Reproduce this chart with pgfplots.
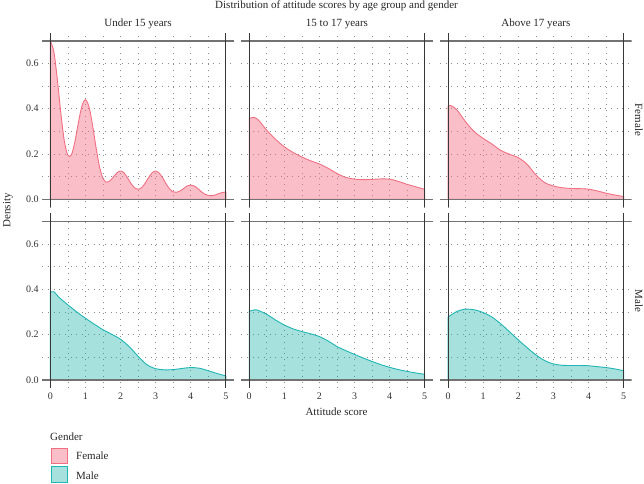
\documentclass[border=0pt]{standalone}
\usepackage{fontspec}
\setmainfont{Liberation Serif}
\usepackage{pgfplots}
\usepackage{pgfplotstable}
\pgfplotsset{compat=1.18}
\definecolor{fline}{RGB}{240,112,130}
\definecolor{fbase}{RGB}{241,110,130}
\definecolor{mline}{RGB}{32,182,180}
\definecolor{mbase}{RGB}{20,175,168}
\definecolor{hcol}{RGB}{115,115,115}
\definecolor{vcol}{RGB}{55,55,55}
\definecolor{gridcol}{RGB}{140,140,140}

\pgfplotstableread{
x y
0 0.700
0.1 0.653
0.2 0.530
0.3 0.381
0.4 0.257
0.5 0.195
0.6 0.196
0.7 0.254
0.8 0.338
0.9 0.412
1.0 0.440
1.1 0.410
1.2 0.331
1.3 0.232
1.4 0.145
1.5 0.092
1.6 0.076
1.7 0.082
1.8 0.099
1.9 0.117
2.0 0.125
2.1 0.117
2.2 0.095
2.3 0.070
2.4 0.051
2.5 0.045
2.6 0.051
2.7 0.071
2.8 0.096
2.9 0.117
3.0 0.125
3.1 0.116
3.2 0.095
3.3 0.068
3.4 0.046
3.5 0.033
3.6 0.031
3.7 0.037
3.8 0.048
3.9 0.059
4.0 0.063
4.1 0.059
4.2 0.048
4.3 0.034
4.4 0.023
4.5 0.017
4.6 0.016
4.7 0.019
4.8 0.025
4.9 0.030
5.0 0.032
}\ftl
\pgfplotstableread{
x y
0 0.357
0.12 0.362
0.25 0.352
0.5 0.305
0.75 0.265
1.0 0.232
1.25 0.207
1.5 0.187
1.75 0.170
2.0 0.156
2.25 0.137
2.5 0.114
2.75 0.097
3.0 0.089
3.25 0.087
3.5 0.088
3.75 0.090
4.0 0.089
4.25 0.079
4.5 0.066
4.75 0.055
5.0 0.044
}\ftc
\pgfplotstableread{
x y
0 0.411
0.08 0.414
0.25 0.395
0.5 0.342
0.75 0.298
1.0 0.269
1.25 0.244
1.5 0.216
1.75 0.199
2.0 0.184
2.25 0.155
2.5 0.108
2.75 0.074
3.0 0.059
3.25 0.051
3.5 0.048
3.75 0.047
4.0 0.045
4.25 0.037
4.5 0.027
4.75 0.019
5.0 0.012
}\ftr
\pgfplotstableread{
x y
0 0.387
0.1 0.390
0.25 0.365
0.5 0.332
0.75 0.301
1.0 0.273
1.25 0.247
1.5 0.222
1.75 0.202
2.0 0.180
2.25 0.147
2.5 0.105
2.75 0.068
3.0 0.050
3.25 0.045
3.5 0.046
3.75 0.051
4.0 0.055
4.25 0.052
4.5 0.041
4.75 0.029
5.0 0.018
}\mbl
\pgfplotstableread{
x y
0 0.303
0.2 0.310
0.5 0.290
0.75 0.265
1.0 0.243
1.25 0.226
1.5 0.214
1.75 0.204
2.0 0.192
2.25 0.172
2.5 0.148
2.75 0.130
3.0 0.113
3.25 0.097
3.5 0.082
3.75 0.068
4.0 0.056
4.25 0.046
4.5 0.038
4.75 0.031
5.0 0.025
}\mbc
\pgfplotstableread{
x y
0 0.278
0.25 0.303
0.5 0.313
0.75 0.310
1.0 0.298
1.25 0.278
1.5 0.248
1.75 0.213
2.0 0.177
2.25 0.143
2.5 0.111
2.75 0.086
3.0 0.071
3.25 0.065
3.5 0.064
3.75 0.064
4.0 0.063
4.25 0.059
4.5 0.055
4.75 0.049
5.0 0.041
}\mbr

\pgfplotsset{
  panel/.style={
    anchor=south west,
    x=35.1pt, y=226.4pt,
    xmin=-0.23, xmax=5.23, ymin=-0.036, ymax=0.736,
    axis line style={draw=none},
    xtick={0,1,2,3,4,5}, ytick={0,0.2,0.4,0.6},
    minor xtick={0.5,1.5,2.5,3.5,4.5}, minor ytick={0.1,0.3,0.5,0.7},
    grid=both,
    major grid style={gridcol, line width=0.7pt, dash pattern=on 0.7pt off 5pt},
    minor grid style={gridcol, line width=0.7pt, dash pattern=on 0.7pt off 5pt},
    major tick length=0pt, minor tick length=0pt,
    tick label style={font=\fontsize{10}{12}\selectfont, text=black!80},
    /pgf/number format/assume math mode=true,
    yticklabel style={/pgf/number format/fixed, /pgf/number format/fixed zerofill, /pgf/number format/precision=1},
    xticklabel style={yshift=-1pt},
  },
  fem/.style={draw=fline, fill=fbase, fill opacity=0.45, draw opacity=1, line width=0.9pt, smooth},
  mal/.style={draw=mline, fill=mbase, fill opacity=0.38, draw opacity=1, line width=0.9pt, smooth},
  frame/.code={},
}
\newcommand{\frames}{%
  \draw[hcol, line width=1.6pt] (axis cs:-0.23,0) -- (axis cs:5.23,0);
  \draw[hcol, line width=1.6pt] (axis cs:-0.23,0.7) -- (axis cs:5.23,0.7);
  \draw[vcol, line width=1.1pt] (axis cs:0,-0.036) -- (axis cs:0,0.736);
  \draw[vcol, line width=1.1pt] (axis cs:5,-0.036) -- (axis cs:5,0.736);
}

\begin{document}
\begin{tikzpicture}[x=1pt,y=1pt]
\useasboundingbox (0,0) rectangle (644,483);
\pgfplotsset{every axis/.append style={}}
% top row
\begin{axis}[panel, at={(42.23pt,275.55pt)}, xticklabels={}]
\addplot[fem] table {\ftl} \closedcycle;
\frames
\end{axis}
\begin{axis}[panel, at={(241.13pt,275.55pt)}, xticklabels={}, yticklabels={}]
\addplot[fem] table {\ftc} \closedcycle;
\frames
\end{axis}
\begin{axis}[panel, at={(440.03pt,275.55pt)}, xticklabels={}, yticklabels={}]
\addplot[fem] table {\ftr} \closedcycle;
\frames
\end{axis}
% bottom row
\begin{axis}[panel, at={(42.23pt,94.85pt)}]
\addplot[mal] table {\mbl} \closedcycle;
\frames
\end{axis}
\begin{axis}[panel, at={(241.13pt,94.85pt)}, yticklabels={}]
\addplot[mal] table {\mbc} \closedcycle;
\frames
\end{axis}
\begin{axis}[panel, at={(440.03pt,94.85pt)}, yticklabels={}]
\addplot[mal] table {\mbr} \closedcycle;
\frames
\end{axis}

\begin{scope}[every node/.style={font=\fontsize{11}{13}\selectfont, text=black!85, inner sep=0pt}]
\node at (336.5,477) {Distribution of attitude scores by age group and gender};
\node at (138.05,459) {Under 15 years};
\node at (336.95,459) {15 to 17 years};
\node at (535.85,459) {Above 17 years};
\node[rotate=-90] at (639,362.95) {Female};
\node[rotate=-90] at (639,182.25) {Male};
\node[rotate=90] at (8,272.6) {Density};
\node at (336.5,71) {Attitude score};
\node[anchor=west] at (50,46) {Gender};
\node[anchor=west] at (76,27) {Female};
\node[anchor=west] at (76,7) {Male};
\end{scope}
\draw[fline, line width=0.9pt, fill=fbase, fill opacity=0.45] (51.5,19.5) rectangle (67.5,35);
\draw[mline, line width=0.9pt, fill=mbase, fill opacity=0.38] (51.5,1) rectangle (67.5,16.5);
\end{tikzpicture}
\end{document}
